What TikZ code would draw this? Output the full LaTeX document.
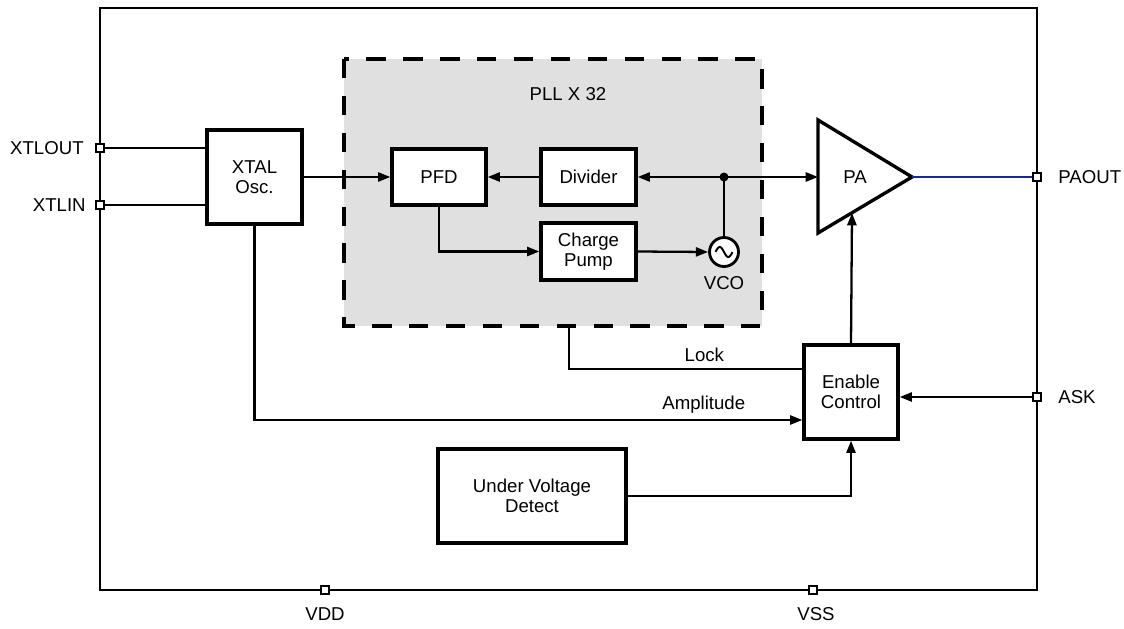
\documentclass[tikz,border=0pt]{standalone}
\usepackage{fontspec}
\setmainfont{Liberation Sans}
\usetikzlibrary{arrows.meta}
\definecolor{paoutblue}{RGB}{25,40,150}
\begin{document}
\begin{tikzpicture}[x=0.02cm, y=-0.02cm,
    font=\fontsize{10.6}{11.6}\selectfont,
    blk/.style={draw, line width=1.9pt, fill=white, align=center, inner sep=0pt},
    pin/.style={draw, line width=1.3pt, fill=white, minimum size=0.16cm, inner sep=0pt},
    wire/.style={line width=1.3pt},
    sig/.style={wire, -{Triangle[length=7pt,width=5.2pt]}},
    pinlbl/.style={inner sep=0pt}]
    \useasboundingbox (0,0) rectangle (1124,628);

    % Contorno del chip
    \draw[wire] (100,8) rectangle (1037,590);

    % Riquadro PLL
    \draw[line width=1.9pt, dash pattern=on 11pt off 10pt, fill=black!12] (344,59) rectangle (762,326);
    \node (pll) at (568,94) {PLL X 32};

    % Blocchi
    \node[blk, minimum width=1.9cm, minimum height=1.88cm] (xtal) at (254.5,177) {XTAL\\Osc.};
    \node[blk, minimum width=1.88cm, minimum height=1.12cm] (pfd) at (439,177) {PFD};
    \node[blk, minimum width=1.9cm, minimum height=1.12cm] (div) at (588.5,177) {Divider};
    \node[blk, minimum width=1.9cm, minimum height=1.14cm] (cp) at (588.5,251.5) {Charge\\Pump};
    \node[blk, minimum width=1.88cm, minimum height=1.88cm] (en) at (851,392) {Enable\\Control};
    \node[blk, minimum width=3.76cm, minimum height=1.88cm] (uvd) at (532,496) {Under Voltage\\Detect};

    % VCO
    \node[draw, circle, line width=1.6pt, fill=white, minimum size=0.58cm, inner sep=0pt] (vco) at (724,252) {};
    \draw[line width=1.1pt, shift={(vco.center)}] plot[domain=-8.5:8.5, samples=40] (\x, {5*sin(21*\x)});
    \node (vcolbl) at (724,283) {VCO};

    % Amplificatore PA
    \coordinate (pa-in) at (818,177);
    \coordinate (pa-tip) at (912,177);
    \coordinate (pa-bot) at (852,213);
    \draw[line width=1.9pt, line join=miter] (818,120) -- (pa-tip) -- (818,233) -- cycle;
    \node (pa) at (855,177) {PA};

    % Pin
    \node[pin] (xtlout) at (100,148) {};
    \node[pin] (xtlin) at (100,205) {};
    \node[pin] (paout) at (1037,177) {};
    \node[pin] (ask) at (1037,397) {};
    \node[pin] (vdd) at (325,590) {};
    \node[pin] (vss) at (813,590) {};
    \node[pinlbl, anchor=east] (xtloutlbl) at (84,148) {XTLOUT};
    \node[pinlbl, anchor=east] (xtlinlbl) at (86,205) {XTLIN};
    \node[pinlbl, anchor=west] (paoutlbl) at (1058,177) {PAOUT};
    \node[pinlbl, anchor=west] (asklbl) at (1058,397) {ASK};
    \node (vddlbl) at (325,614) {VDD};
    \node (vsslbl) at (816,614) {VSS};

    % Collegamenti quarzo
    \draw[wire] (xtlout) -- (xtlout -| xtal.west);
    \draw[wire] (xtlin) -- (xtlin -| xtal.west);
    \draw[sig] (xtal.east) -- (pfd.west);

    % Anello PLL
    \coordinate (jn) at (724,177);
    \fill (jn) circle (0.09cm);
    \draw[sig] (div.west) -- (pfd.east);
    \draw[sig] (jn) -- (div.east);
    \draw[sig] (jn) -- (pa-in);
    \draw[wire] (jn) -- (vco.north);
    \draw[sig] (pfd.south) |- (cp.west);
    \draw[sig] (cp.east) -- (vco.west);

    % Uscita PA
    \draw[line width=1.3pt, color=paoutblue] (pa-tip) -- (paout);

    % Controllo abilitazione
    \coordinate (lock-src) at (569,326);
    \draw[wire] (lock-src) |- node[pos=0.79, above] {Lock} ([yshift=0.46cm]en.west);
    \draw[sig] (xtal.south) |- node[pos=0.91, above] {Amplitude} ([yshift=-0.56cm]en.west);
    \draw[sig] (ask) -- (ask -| en.east);
    \draw[sig] (uvd.east) -| (en.south);
    \draw[sig] (en.north) -- (pa-bot);

\end{tikzpicture}
\end{document}
